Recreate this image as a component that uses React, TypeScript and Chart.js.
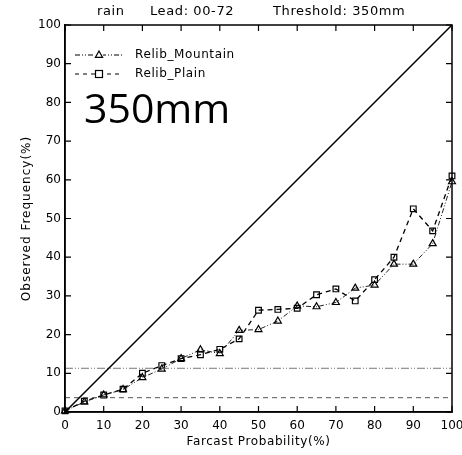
import React, { useEffect, useRef } from "react";
import { Chart, registerables } from "chart.js";

Chart.register(...registerables);

// Forecast probability bins (%)
const probabilities = [0, 5, 10, 15, 20, 25, 30, 35, 40, 45, 50, 55, 60, 65, 70, 75, 80, 85, 90, 95, 100];
// Observed frequency (%) per bin
const mountainFreq = [0.3, 2.6, 4.4, 5.8, 8.9, 11.1, 13.8, 16.1, 15.1, 21.1, 21.3, 23.5, 27.4, 27.2, 28.3, 32.0, 32.8, 38.2, 38.2, 43.5, 59.5];
const plainFreq = [0.3, 2.8, 4.4, 5.9, 10.0, 12.0, 13.8, 14.8, 16.2, 18.9, 26.3, 26.5, 26.8, 30.3, 31.8, 28.7, 34.2, 40.0, 52.5, 46.8, 61.0];
// Climatological base rates (%)
const mountainClimo = 11.3;
const plainClimo = 3.7;
const tickValues = [0, 10, 20, 30, 40, 50, 60, 70, 80, 90, 100];

const titleParts = ["rain", "Lead: 00-72", "Threshold: 350mm"];
const xTitle = "Farcast Probability(%)";
const yTitle = "Observed Frequency(%)";
const bigLabel = "350mm";
const seriesNames = ["Relib_Mountain", "Relib_Plain"];

const FONT = "'DejaVu Sans', sans-serif";

function drawTriangle(ctx: CanvasRenderingContext2D, x: number, y: number, r: number) {
  ctx.beginPath();
  ctx.moveTo(x, y - r);
  ctx.lineTo(x + r * 0.9, y + r * 0.6);
  ctx.lineTo(x - r * 0.9, y + r * 0.6);
  ctx.closePath();
  ctx.stroke();
}

const decorPlugin = {
  id: "decor",
  afterDatasetsDraw(chart: any) {
    const ctx: any = chart.ctx;
    const area = chart.chartArea;
    const xs = chart.scales.x;
    const ys = chart.scales.y;
    ctx.save();
    ctx.strokeStyle = "#000";
    ctx.lineWidth = 1.5;
    ctx.setLineDash([]);
    ctx.strokeRect(area.left, area.top, area.right - area.left, area.bottom - area.top);

    // inward tick marks on all four sides
    ctx.lineWidth = 1.2;
    const len = 6;
    ctx.beginPath();
    for (const v of tickValues) {
      const px = xs.getPixelForValue(v);
      ctx.moveTo(px, area.bottom);
      ctx.lineTo(px, area.bottom - len);
      ctx.moveTo(px, area.top);
      ctx.lineTo(px, area.top + len);
      const py = ys.getPixelForValue(v);
      ctx.moveTo(area.left, py);
      ctx.lineTo(area.left + len, py);
      ctx.moveTo(area.right, py);
      ctx.lineTo(area.right - len, py);
    }
    ctx.stroke();

    // legend
    ctx.fillStyle = "#000";
    ctx.textBaseline = "middle";
    ctx.textAlign = "left";
    const lx0 = area.left + 10;
    const lx1 = area.left + 57;
    const mx = area.left + 34;
    const rows = [area.top + 30, area.top + 49];
    ctx.lineWidth = 1;
    ctx.setLineDash([5, 2, 1, 2, 1, 2]);
    ctx.beginPath();
    ctx.moveTo(lx0, rows[0]);
    ctx.lineTo(lx1, rows[0]);
    ctx.stroke();
    ctx.setLineDash([]);
    ctx.clearRect(mx - 4, rows[0] - 4, 8, 7);
    ctx.lineWidth = 1.2;
    drawTriangle(ctx, mx, rows[0], 4);
    ctx.lineWidth = 1;
    ctx.setLineDash([4, 4]);
    ctx.beginPath();
    ctx.moveTo(lx0, rows[1]);
    ctx.lineTo(lx1, rows[1]);
    ctx.stroke();
    ctx.setLineDash([]);
    ctx.clearRect(mx - 4, rows[1] - 4, 8, 8);
    ctx.lineWidth = 1.2;
    ctx.strokeRect(mx - 3.5, rows[1] - 3.5, 7, 7);
    ctx.font = `12px ${FONT}`;
    ctx.letterSpacing = "0.6px";
    ctx.fillText(seriesNames[0], area.left + 70, rows[0]);
    ctx.fillText(seriesNames[1], area.left + 70, rows[1]);
    ctx.letterSpacing = "0px";

    // threshold label
    ctx.font = `41px 'Open Sans', sans-serif`;
    ctx.textBaseline = "alphabetic";
    ctx.fillText(bigLabel, area.left + 19, area.top + 98);
    ctx.restore();
  },
  afterDraw(chart: any) {
    const ctx: any = chart.ctx;
    const area = chart.chartArea;
    ctx.save();
    ctx.fillStyle = "#000";
    ctx.textBaseline = "middle";
    ctx.textAlign = "left";
    ctx.font = `13px ${FONT}`;
    ctx.letterSpacing = "0.6px";
    const starts = [97, 150, 273];
    titleParts.forEach((t, i) => ctx.fillText(t, starts[i], 12));
    ctx.textAlign = "center";
    ctx.font = `12px ${FONT}`;
    ctx.letterSpacing = "0.6px";
    ctx.fillText(xTitle, (area.left + area.right) / 2, 442);
    ctx.translate(27, (area.top + area.bottom) / 2);
    ctx.rotate(-Math.PI / 2);
    ctx.letterSpacing = "1px";
    ctx.fillText(yTitle, 0, 0);
    ctx.restore();
  },
};

export default function App() {
  const canvasRef = useRef<HTMLCanvasElement | null>(null);

  useEffect(() => {
    if (!canvasRef.current) return;
    const toPts = (ys: number[]) => probabilities.map((p, i) => ({ x: p, y: ys[i] }));
    const chart = new Chart(canvasRef.current, {
      type: "line",
      data: {
        datasets: [
          {
            label: "perfect",
            data: [{ x: 0, y: 0 }, { x: 100, y: 100 }],
            borderColor: "#000",
            borderWidth: 1.5,
            pointRadius: 0,
          },
          {
            label: "mountain climatology",
            data: [{ x: 0, y: mountainClimo }, { x: 100, y: mountainClimo }],
            borderColor: "#777",
            borderWidth: 1,
            borderDash: [8, 2, 1, 2, 1, 2],
            pointRadius: 0,
          },
          {
            label: "plain climatology",
            data: [{ x: 0, y: plainClimo }, { x: 100, y: plainClimo }],
            borderColor: "#555",
            borderWidth: 1,
            borderDash: [5, 4],
            pointRadius: 0,
          },
          {
            label: seriesNames[0],
            data: toPts(mountainFreq),
            borderColor: "#222",
            borderWidth: 1,
            borderDash: [5, 2, 1, 2, 1, 2],
            pointStyle: "triangle",
            pointRadius: 4,
            pointBorderWidth: 1.2,
            pointBackgroundColor: "rgba(0,0,0,0)",
            pointBorderColor: "#000",
            clip: false,
          },
          {
            label: seriesNames[1],
            data: toPts(plainFreq),
            borderColor: "#000",
            borderWidth: 1.3,
            borderDash: [5, 4],
            pointStyle: "rect",
            pointRadius: 4,
            pointBorderWidth: 1.2,
            pointBackgroundColor: "rgba(0,0,0,0)",
            pointBorderColor: "#000",
            clip: false,
          },
        ],
      },
      options: {
        responsive: false,
        animation: false,
        layout: { padding: { left: 0, right: 10, top: 25, bottom: 0 } },
        plugins: { legend: { display: false }, title: { display: false }, tooltip: { enabled: false } },
        scales: {
          x: {
            type: "linear",
            min: 0,
            max: 100,
            afterFit: (s: any) => {
              s.height = 43;
              s.paddingLeft = 0;
              s.paddingRight = 0;
            },
            grid: { display: false, drawTicks: false },
            border: { display: true, color: "#000", width: 1.5 },
            ticks: {
              stepSize: 10,
              padding: 7,
              maxRotation: 0,
              color: "#000",
              font: { family: FONT, size: 12 },
            },
          },
          y: {
            type: "linear",
            min: 0,
            max: 100,
            afterFit: (s: any) => {
              s.width = 65;
              s.paddingTop = 0;
              s.paddingBottom = 0;
            },
            grid: { display: false, drawTicks: false },
            border: { display: true, color: "#000", width: 1.5 },
            ticks: {
              stepSize: 10,
              padding: 4,
              color: "#000",
              font: { family: FONT, size: 12 },
            },
          },
        },
      },
      plugins: [decorPlugin],
    });
    return () => chart.destroy();
  }, []);

  return (
    <div style={{ position: "fixed", left: 0, top: 0, width: 462, height: 455, background: "#fff" }}>
      <canvas ref={canvasRef} width={462} height={455} />
    </div>
  );
}
